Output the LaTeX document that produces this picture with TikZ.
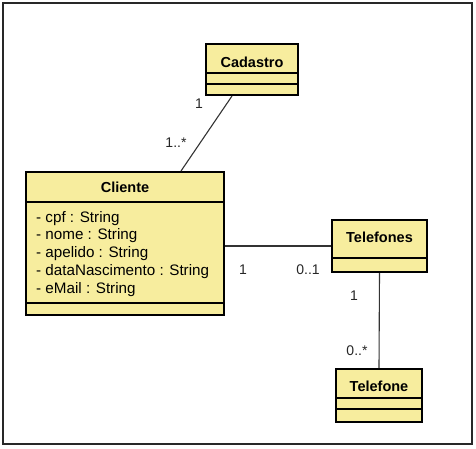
\documentclass[tikz,border=0pt]{standalone}
\usepackage{fontspec}
\setmainfont{Liberation Sans}
\usetikzlibrary{calc}
\definecolor{umlfill}{RGB}{247,237,158}
\definecolor{framecol}{RGB}{40,40,40}
\tikzset{
  umlbox/.style={draw=black, line width=2pt, fill=umlfill, inner sep=0pt, rectangle},
  divider/.style={draw=black, line width=1.3pt},
  assoc/.style={draw=black!80, line width=1.1pt},
  cname/.style={font=\fontsize{14.5}{17}\selectfont\bfseries, anchor=base, inner sep=0pt},
  attr/.style={font=\fontsize{15.2}{17}\selectfont, anchor=base west, inner sep=0pt},
  mult/.style={font=\fontsize{14}{17}\selectfont, anchor=base, inner sep=0pt, text=black!85},
}
\begin{document}
\begin{tikzpicture}[x=1pt, y=-1pt]
\useasboundingbox (0,0) rectangle (476,448);
\draw[framecol, line width=2.2pt] (3,3) rectangle (472,444);

% Cadastro
\node[umlbox, minimum width=92pt, minimum height=51pt] (cad) at (252,69.5) {};
\draw[divider] (206,73) -- (298,73);
\draw[divider] (206,84) -- (298,84);
\node[cname] (cadname) at (252,67) {Cadastro};

% Cliente
\node[umlbox, minimum width=198pt, minimum height=143pt] (cli) at (125,243.5) {};
\draw[divider] (26,202) -- (224,202);
\draw[divider] (26,303) -- (224,303);
\node[cname] (cliname) at (125,192) {Cliente};
\node[attr] (a1) at (36,222) {- cpf : String};
\node[attr] (a2) at (36,239.8) {- nome : String};
\node[attr] (a3) at (36,257.6) {- apelido : String};
\node[attr] (a4) at (36,275.4) {- dataNascimento : String};
\node[attr] (a5) at (36,293.2) {- eMail : String};

% Telefones
\node[umlbox, minimum width=95pt, minimum height=52pt] (tels) at (379.5,246) {};
\draw[divider] (332,258) -- (427,258);
\node[cname] (telsname) at (379.5,242) {Telefones};

% Telefone
\node[umlbox, minimum width=86pt, minimum height=53pt] (tel) at (379,395.5) {};
\draw[divider] (336,398) -- (422,398);
\draw[divider] (336,409) -- (422,409);
\node[cname] (telname) at (379,391) {Telefone};

% associations
\draw[assoc] ($(cad.south west)+(27,0)$) -- ($(cli.north)+(56,0)$);
\draw[assoc] (cli.east |- tels.west) -- (tels.west);
\draw[assoc] (tels.south) -- (tel.north);

% multiplicities
\node[mult] (m1) at (199,108) {1};
\node[mult] (m2) at (176,147) {1..*};
\node[mult] (m3) at (243,274) {1};
\node[mult] (m4) at (308,274) {0..1};
\node[mult] (m5) at (354,300) {1};
\node[mult] (m6) at (357,355) {0..*};
\end{tikzpicture}
\end{document}
